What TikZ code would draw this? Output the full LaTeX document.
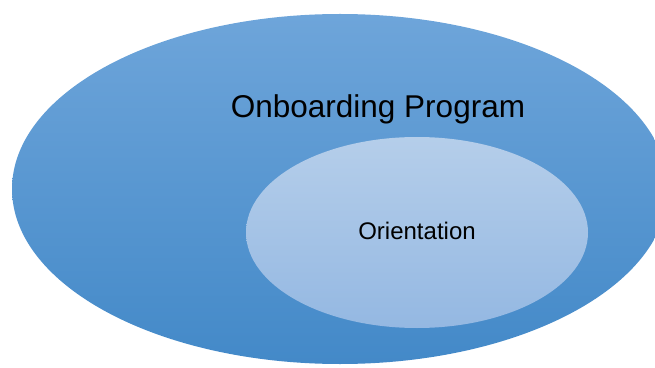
\documentclass[tikz,border=0pt]{standalone}
\usepackage{fontspec}
\setmainfont{Liberation Sans}
\usetikzlibrary{shapes.geometric}
\definecolor{outerTop}{HTML}{6EA5DA}
\definecolor{outerBot}{HTML}{4389C8}
\definecolor{innerTop}{HTML}{B5CEEA}
\definecolor{innerBot}{HTML}{94B8E2}
\begin{document}
\begin{tikzpicture}[x=1pt,y=1pt,
  bubble/.style={ellipse, inner sep=0pt, draw=none}]
\useasboundingbox (0,0) rectangle (655,367);
\clip (0,0) rectangle (655,367);
% outer set: the whole programme
\node[bubble, minimum width=656pt, minimum height=350pt,
      top color=outerTop, bottom color=outerBot] (program) at (340,178) {};
% inner set: orientation
\node[bubble, minimum width=342pt, minimum height=191pt,
      top color=innerTop, bottom color=innerBot] (orient) at (417,134.5) {};
\node[font=\fontsize{31.5}{36}\selectfont, text=black] (programlabel) at (378,258) {Onboarding Program};
\node[font=\fontsize{24}{28}\selectfont, text=black] (orientlabel) at (417,136) {Orientation};
\end{tikzpicture}
\end{document}
